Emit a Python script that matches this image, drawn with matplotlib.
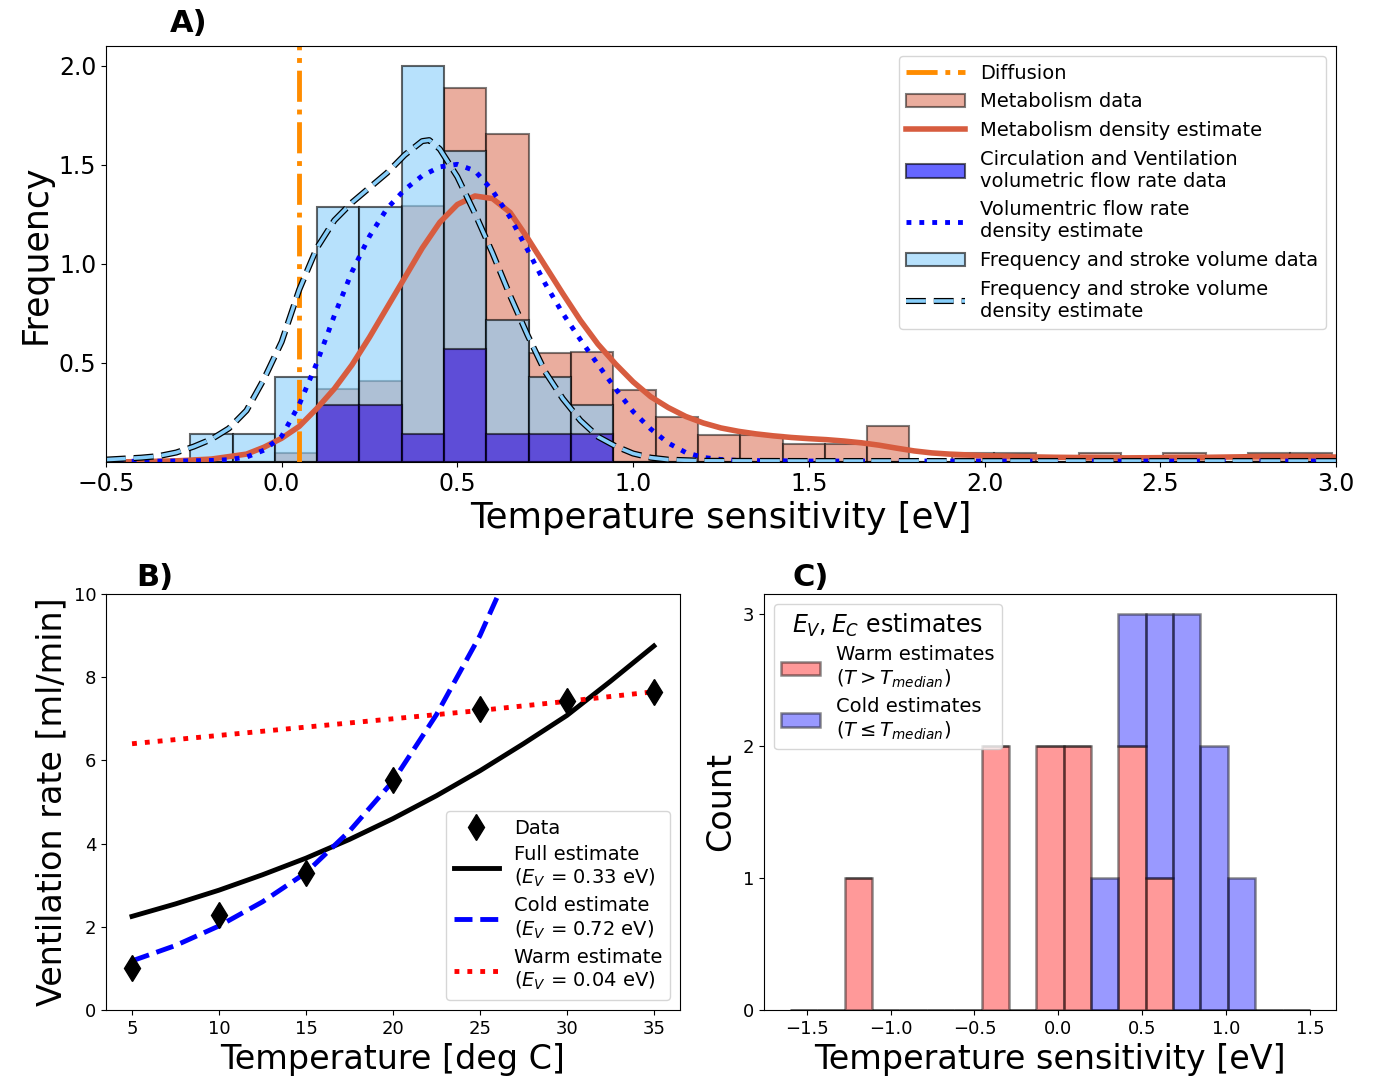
import numpy as np
import matplotlib
matplotlib.use('Agg')
import matplotlib.pyplot as plt
import matplotlib.patheffects as pe
from matplotlib.patches import Patch
from matplotlib.lines import Line2D

# ---------------- panel A data ----------------
# shared histogram bins (eV)
a_edges = np.linspace(-0.26, 2.99, 28)
metab_hist = [0, 0, 0.048, 0.367, 0.41, 1.29, 1.888, 1.657, 0.552, 0.555,
              0.365, 0.229, 0.135, 0.135, 0.091, 0.091, 0.18, 0, 0.045, 0.045,
              0, 0.045, 0, 0.045, 0, 0.045, 0.045]
freq_hist = [0.143, 0.143, 0.43, 1.286, 1.286, 2.0, 1.572, 0.715, 0.429, 0.286,
             0, 0, 0, 0, 0, 0, 0, 0, 0, 0, 0, 0, 0, 0, 0, 0, 0]
circ_hist = [0, 0, 0, 0.286, 0.286, 0.143, 0.572, 0.143, 0.143, 0.143,
             0, 0, 0, 0, 0, 0, 0, 0, 0, 0, 0, 0, 0, 0, 0, 0, 0]

diffusion_E = 0.05

# density estimate curves
metab_kde_x = [-0.5, -0.4, -0.3, -0.2, -0.1, -0.05, 0.0, 0.05, 0.1, 0.15, 0.2, 0.25,
               0.3, 0.35, 0.4, 0.45, 0.5, 0.55, 0.6, 0.65, 0.7, 0.75, 0.8, 0.85,
               0.9, 0.95, 1.0, 1.05, 1.1, 1.15, 1.2, 1.25, 1.3, 1.35, 1.4, 1.45,
               1.5, 1.55, 1.6, 1.65, 1.7, 1.75, 1.8, 1.85, 1.9, 2.0, 2.1, 2.2,
               2.4, 2.6, 2.8, 2.9, 3.0]
metab_kde_y = [0.0, 0.002, 0.006, 0.015, 0.04, 0.075, 0.12, 0.18, 0.27, 0.37, 0.49, 0.63,
               0.78, 0.93, 1.08, 1.21, 1.3, 1.343, 1.33, 1.26, 1.13, 0.99, 0.85, 0.715,
               0.595, 0.495, 0.405, 0.33, 0.275, 0.23, 0.197, 0.172, 0.155, 0.142, 0.132, 0.124,
               0.118, 0.113, 0.106, 0.097, 0.085, 0.07, 0.056, 0.046, 0.04, 0.032, 0.027, 0.024,
               0.021, 0.023, 0.028, 0.028, 0.025]

vol_kde_x = [-0.5, -0.3, -0.2, -0.15, -0.1, -0.05, 0.0, 0.05, 0.1, 0.15, 0.2, 0.25,
             0.3, 0.35, 0.4, 0.45, 0.5, 0.55, 0.6, 0.65, 0.7, 0.75, 0.8, 0.85,
             0.9, 0.95, 1.0, 1.05, 1.1, 1.15, 1.2, 1.25, 1.3, 1.5, 2.0, 2.5, 3.0]
vol_kde_y = [0.003, 0.005, 0.008, 0.012, 0.025, 0.06, 0.13, 0.29, 0.5, 0.74, 0.96, 1.14,
             1.28, 1.375, 1.445, 1.49, 1.503, 1.47, 1.37, 1.235, 1.07, 0.9, 0.75, 0.618,
             0.492, 0.37, 0.255, 0.167, 0.096, 0.048, 0.023, 0.013, 0.008, 0.005, 0.005,
             0.005, 0.005]

freq_kde_x = [-0.5, -0.45, -0.4, -0.35, -0.3, -0.25, -0.2, -0.15, -0.1, -0.05, 0.0,
              0.05, 0.1, 0.15, 0.2, 0.25, 0.3, 0.35, 0.4, 0.42, 0.45, 0.5, 0.55,
              0.6, 0.65, 0.7, 0.75, 0.8, 0.85, 0.9, 0.95, 1.0, 1.05, 1.1, 1.2,
              1.5, 2.0, 2.5, 3.0]
freq_kde_y = [0.012, 0.017, 0.022, 0.03, 0.048, 0.078, 0.115, 0.17, 0.26, 0.42, 0.607,
              0.87, 1.08, 1.22, 1.31, 1.385, 1.46, 1.55, 1.62, 1.625, 1.58, 1.44, 1.255,
              1.055, 0.84, 0.64, 0.455, 0.32, 0.21, 0.128, 0.08, 0.043, 0.022, 0.012, 0.006,
              0.005, 0.005, 0.005, 0.005]

# ---------------- panel B data ----------------
temp = [5, 10, 15, 20, 25, 30, 35]
vent = [1.0, 2.28, 3.29, 5.54, 7.24, 7.42, 7.65]

full_x = [5, 7.5, 10, 12.5, 15, 17.5, 20, 22.5, 25, 27.5, 30, 32.5, 35]
full_y = [2.25, 2.55, 2.88, 3.25, 3.65, 4.1, 4.6, 5.15, 5.75, 6.4, 7.08, 7.9, 8.75]
cold_x = [5, 7.5, 10, 12.5, 15, 17.5, 20, 22.5, 25, 26.5]
cold_y = [1.18, 1.55, 2.02, 2.6, 3.3, 4.3, 5.5, 7.1, 9.0, 10.4]
warm_x = [5, 10, 15, 20, 25, 30, 35]
warm_y = [6.4, 6.6, 6.8, 7.0, 7.2, 7.42, 7.65]

# ---------------- panel C data ----------------
c_edges = np.linspace(-1.6, 1.5, 20)
warm_counts = [0, 0, 1, 0, 0, 0, 0, 2, 0, 2, 2, 0, 2, 1, 0, 0, 0, 0, 0]
cold_counts = [0, 0, 0, 0, 0, 0, 0, 0, 0, 0, 0, 1, 1, 2, 3, 2, 1, 0, 0]

metab_col = '#d75c3f'
circ_col = (0.165, 0.0, 0.85)

fig = plt.figure(figsize=(13.74, 10.78), dpi=100)

# ======== A ========
axA = fig.add_axes([0.0771, 0.5714, 0.8952, 0.3859])
w = np.diff(a_edges)
axA.bar(a_edges[:-1], metab_hist, width=w, align='edge', color=metab_col,
        edgecolor='black', alpha=0.5, linewidth=1.5)
axA.bar(a_edges[:-1], freq_hist, width=w, align='edge', color='lightskyblue',
        edgecolor='black', alpha=0.6, linewidth=1.5)
axA.bar(a_edges[:-1], circ_hist, width=w, align='edge', color=circ_col,
        edgecolor='black', alpha=0.6, linewidth=1.5)

axA.axvline(diffusion_E, color='darkorange', linestyle='-.', linewidth=3.5)
axA.plot(metab_kde_x, metab_kde_y, color=metab_col, linewidth=4)
axA.plot(vol_kde_x, vol_kde_y, color='blue', linestyle=':', linewidth=3.5)
axA.plot(freq_kde_x, freq_kde_y, color='lightskyblue', linestyle=(0, (5.5, 2.2)),
         linewidth=2.6,
         path_effects=[pe.Stroke(linewidth=4.4, foreground='black'), pe.Normal()])

axA.set_xlim(-0.5, 3.0)
axA.set_ylim(0, 2.1)
axA.set_yticks([0.5, 1.0, 1.5, 2.0])
axA.tick_params(labelsize=17)
axA.set_xlabel('Temperature sensitivity [eV]', fontsize=25.5)
axA.set_ylabel('Frequency', fontsize=25)
axA.text(0.067, 1.02, 'A)', transform=axA.transAxes, ha='center', va='bottom',
         fontsize=22, fontweight='bold')

handles = [
    Line2D([], [], color='darkorange', linestyle='-.', linewidth=3.5),
    Patch(facecolor=metab_col, edgecolor='black', alpha=0.5, linewidth=1.5),
    Line2D([], [], color=metab_col, linewidth=4),
    Patch(facecolor='blue', edgecolor='black', alpha=0.6, linewidth=1.5),
    Line2D([], [], color='blue', linestyle=':', linewidth=3.5),
    Patch(facecolor='lightskyblue', edgecolor='black', alpha=0.6, linewidth=1.5),
    Line2D([], [], color='lightskyblue', linestyle=(0, (5.5, 2.2)), linewidth=2.6,
           path_effects=[pe.Stroke(linewidth=4.4, foreground='black'), pe.Normal()]),
]
labels = ['Diffusion', 'Metabolism data', 'Metabolism density estimate',
          'Circulation and Ventilation\nvolumetric flow rate data',
          'Volumentric flow rate\ndensity estimate',
          'Frequency and stroke volume data',
          'Frequency and stroke volume\ndensity estimate']
axA.legend(handles, labels, loc='upper right', fontsize=14, handlelength=3.0,
           labelspacing=0.5)

# ======== B ========
axB = fig.add_axes([0.0771, 0.0631, 0.4178, 0.3859])
axB.plot(temp, vent, 'kd', markersize=13, label='Data', zorder=3)
axB.plot(full_x, full_y, color='black', linewidth=3.5,
         label='Full estimate\n($E_V$ = 0.33 eV)')
axB.plot(cold_x, cold_y, color='blue', linestyle='--', linewidth=3.5,
         label='Cold estimate\n($E_V$ = 0.72 eV)')
axB.plot(warm_x, warm_y, color='red', linestyle=':', linewidth=3.5,
         label='Warm estimate\n($E_V$ = 0.04 eV)')
axB.set_xlim(3.5, 36.5)
axB.set_ylim(0, 10)
axB.set_xticks([5, 10, 15, 20, 25, 30, 35])
axB.tick_params(labelsize=13)
axB.set_xlabel('Temperature [deg C]', fontsize=24)
axB.set_ylabel('Ventilation rate [ml/min]', fontsize=24)
axB.legend(loc='lower right', fontsize=14, handlelength=2.3, labelspacing=0.35)
axB.text(0.085, 1.005, 'B)', transform=axB.transAxes, ha='center', va='bottom',
         fontsize=22, fontweight='bold')

# ======== C ========
axC = fig.add_axes([0.556, 0.0631, 0.4163, 0.3859])
cw = np.diff(c_edges)
axC.bar(c_edges[:-1], warm_counts, width=cw, align='edge',
        facecolor=(1, 0, 0, 0.4), edgecolor=(0, 0, 0, 0.45), linewidth=1.8,
        label='Warm estimates\n($T > T_{median}$)')
axC.bar(c_edges[:-1], cold_counts, width=cw, align='edge', bottom=warm_counts,
        facecolor=(0, 0, 1, 0.4), edgecolor=(0, 0, 0, 0.45), linewidth=1.8,
        label='Cold estimates\n($T \\leq T_{median}$)')
axC.set_yticks([0, 1, 2, 3])
axC.set_xticks([-1.5, -1.0, -0.5, 0.0, 0.5, 1.0, 1.5])
axC.tick_params(labelsize=13)
axC.set_xlabel('Temperature sensitivity [eV]', fontsize=24)
axC.set_ylabel('Count', fontsize=24)
axC.legend(loc='upper left', fontsize=14, title='$E_V, E_C$ estimates',
           title_fontsize=17, labelspacing=0.35)
axC.text(0.082, 1.005, 'C)', transform=axC.transAxes, ha='center', va='bottom',
         fontsize=22, fontweight='bold')

fig.savefig('out.png', dpi=100)
